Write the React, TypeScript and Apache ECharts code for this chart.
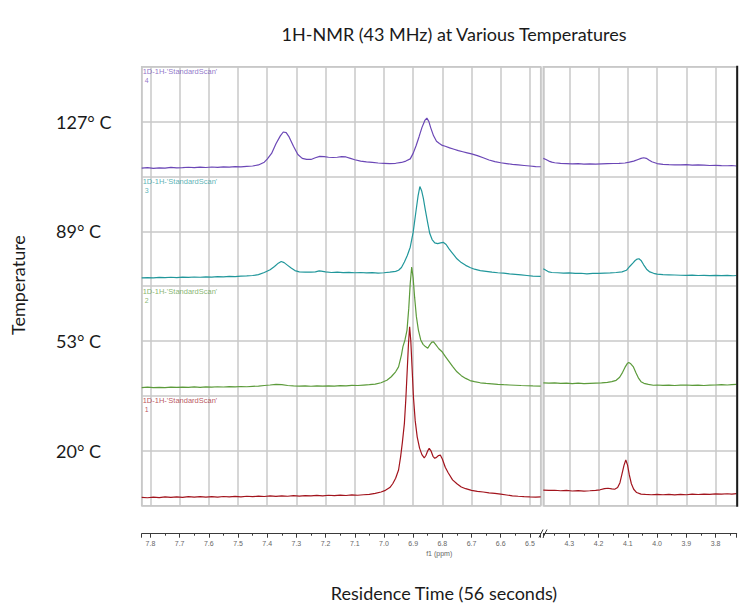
import React, { useEffect, useRef } from "react";
import * as echarts from "echarts";

// ---------- data ----------
const temperatures = ["20° C", "53° C", "89° C", "127° C"];
const scanNumbers = ["1", "2", "3", "4"];
const scanName = "1D-1H-'StandardScan'";
const leftRange = [6.463, 7.83];
const rightRange = [3.728, 4.389];

const redLeft = [
  [7.83, 0.153], [7.81, 0.145], [7.79, 0.158], [7.77, 0.148], [7.75, 0.16], [7.73, 0.15], [7.71, 0.162], [7.69, 0.152],
  [7.67, 0.164], [7.65, 0.155], [7.63, 0.165], [7.61, 0.156], [7.59, 0.166], [7.57, 0.158], [7.55, 0.168], [7.53, 0.16],
  [7.51, 0.17], [7.49, 0.162], [7.47, 0.172], [7.45, 0.165], [7.43, 0.175], [7.41, 0.168], [7.39, 0.178], [7.37, 0.17],
  [7.35, 0.18], [7.33, 0.172], [7.31, 0.182], [7.29, 0.175], [7.27, 0.185], [7.25, 0.178], [7.23, 0.188], [7.21, 0.18],
  [7.19, 0.19], [7.17, 0.183], [7.15, 0.193], [7.13, 0.186], [7.11, 0.196], [7.09, 0.19], [7.07, 0.2], [7.05, 0.205],
  [7.03, 0.225], [7.01, 0.25], [6.995, 0.28], [6.98, 0.33], [6.97, 0.4], [6.96, 0.5], [6.95, 0.65], [6.943, 0.89],
  [6.937, 1.15], [6.93, 1.5], [6.925, 1.95], [6.92, 2.5], [6.916, 2.95], [6.912, 3.26], [6.908, 3.0], [6.904, 2.55],
  [6.899, 1.98], [6.893, 1.55], [6.886, 1.25], [6.878, 1.05], [6.87, 0.93], [6.862, 0.87], [6.856, 0.92], [6.85, 1.0],
  [6.845, 1.046], [6.839, 1.0], [6.832, 0.9], [6.826, 0.865], [6.82, 0.88], [6.813, 0.915], [6.807, 0.923], [6.8, 0.85],
  [6.79, 0.7], [6.78, 0.6], [6.765, 0.47], [6.75, 0.4], [6.735, 0.34], [6.72, 0.31], [6.7, 0.28], [6.68, 0.262],
  [6.66, 0.25], [6.64, 0.235], [6.62, 0.225], [6.6, 0.21], [6.58, 0.195], [6.56, 0.18], [6.54, 0.172], [6.52, 0.165],
  [6.5, 0.16], [6.48, 0.158], [6.463, 0.162],
];
const redRight = [
  [4.389, 0.285], [4.37, 0.278], [4.35, 0.282], [4.33, 0.272], [4.31, 0.278], [4.29, 0.268], [4.27, 0.274], [4.25, 0.266],
  [4.23, 0.272], [4.21, 0.28], [4.195, 0.29], [4.18, 0.31], [4.168, 0.318], [4.155, 0.305], [4.145, 0.3], [4.135, 0.33],
  [4.127, 0.42], [4.12, 0.58], [4.113, 0.74], [4.107, 0.832], [4.101, 0.74], [4.095, 0.56], [4.088, 0.4], [4.08, 0.3],
  [4.07, 0.24], [4.055, 0.21], [4.04, 0.205], [4.02, 0.2], [4.0, 0.208], [3.98, 0.2], [3.96, 0.206], [3.94, 0.198],
  [3.92, 0.205], [3.9, 0.2], [3.88, 0.21], [3.86, 0.204], [3.84, 0.212], [3.82, 0.206], [3.8, 0.215], [3.78, 0.21],
  [3.76, 0.218], [3.745, 0.212], [3.728, 0.22],
];

const greenLeft = [
  [7.83, 0.153], [7.81, 0.16], [7.79, 0.15], [7.77, 0.158], [7.75, 0.152], [7.73, 0.16], [7.71, 0.155], [7.69, 0.162],
  [7.67, 0.157], [7.65, 0.164], [7.63, 0.158], [7.61, 0.165], [7.59, 0.16], [7.57, 0.168], [7.55, 0.163], [7.53, 0.17],
  [7.51, 0.166], [7.49, 0.172], [7.47, 0.168], [7.45, 0.176], [7.43, 0.18], [7.41, 0.19], [7.39, 0.2], [7.37, 0.212],
  [7.35, 0.205], [7.33, 0.19], [7.31, 0.183], [7.29, 0.178], [7.27, 0.182], [7.25, 0.177], [7.23, 0.183], [7.21, 0.178],
  [7.19, 0.185], [7.17, 0.18], [7.15, 0.188], [7.13, 0.185], [7.11, 0.192], [7.09, 0.19], [7.07, 0.198], [7.05, 0.205],
  [7.03, 0.215], [7.01, 0.24], [6.99, 0.285], [6.975, 0.35], [6.96, 0.44], [6.95, 0.53], [6.94, 0.75], [6.935, 0.9],
  [6.928, 1.02], [6.921, 1.2], [6.915, 1.6], [6.91, 2.05], [6.905, 2.35], [6.9, 2.15], [6.895, 1.8], [6.889, 1.45],
  [6.882, 1.2], [6.874, 1.02], [6.866, 0.94], [6.858, 0.9], [6.85, 0.87], [6.843, 0.93], [6.836, 0.98], [6.83, 0.985],
  [6.822, 0.93], [6.812, 0.86], [6.8, 0.8], [6.79, 0.72], [6.78, 0.65], [6.765, 0.54], [6.75, 0.44], [6.735, 0.37],
  [6.72, 0.32], [6.705, 0.28], [6.69, 0.26], [6.67, 0.24], [6.65, 0.228], [6.63, 0.22], [6.61, 0.212], [6.59, 0.205],
  [6.57, 0.2], [6.55, 0.195], [6.53, 0.19], [6.51, 0.186], [6.49, 0.182], [6.463, 0.178],
];
const greenRight = [
  [4.389, 0.24], [4.37, 0.232], [4.35, 0.238], [4.33, 0.228], [4.31, 0.234], [4.29, 0.226], [4.27, 0.232], [4.25, 0.225],
  [4.23, 0.23], [4.21, 0.235], [4.19, 0.24], [4.17, 0.248], [4.155, 0.26], [4.14, 0.285], [4.128, 0.34], [4.118, 0.43],
  [4.11, 0.52], [4.102, 0.59], [4.097, 0.608], [4.09, 0.585], [4.081, 0.528], [4.072, 0.42], [4.063, 0.32], [4.055, 0.26],
  [4.045, 0.23], [4.03, 0.21], [4.013, 0.195], [4.0, 0.2], [3.98, 0.192], [3.96, 0.198], [3.94, 0.19], [3.92, 0.196],
  [3.9, 0.2], [3.88, 0.193], [3.86, 0.198], [3.84, 0.19], [3.82, 0.196], [3.8, 0.2], [3.78, 0.205], [3.76, 0.2],
  [3.745, 0.208], [3.728, 0.21],
];

const tealLeft = [
  [7.83, 0.153], [7.81, 0.158], [7.79, 0.15], [7.77, 0.16], [7.75, 0.155], [7.73, 0.163], [7.71, 0.158], [7.69, 0.166],
  [7.67, 0.16], [7.65, 0.168], [7.63, 0.163], [7.61, 0.17], [7.59, 0.165], [7.57, 0.174], [7.55, 0.17], [7.53, 0.178],
  [7.51, 0.175], [7.49, 0.183], [7.47, 0.188], [7.45, 0.195], [7.43, 0.21], [7.41, 0.25], [7.39, 0.3], [7.375, 0.36],
  [7.362, 0.42], [7.352, 0.45], [7.342, 0.43], [7.33, 0.38], [7.318, 0.33], [7.305, 0.285], [7.29, 0.26], [7.27, 0.255],
  [7.25, 0.258], [7.235, 0.262], [7.222, 0.28], [7.215, 0.275], [7.2, 0.262], [7.18, 0.25], [7.16, 0.255], [7.14, 0.248],
  [7.12, 0.252], [7.1, 0.245], [7.08, 0.25], [7.06, 0.243], [7.04, 0.248], [7.02, 0.24], [7.0, 0.245], [6.98, 0.255],
  [6.96, 0.27], [6.95, 0.29], [6.94, 0.34], [6.93, 0.44], [6.92, 0.56], [6.91, 0.71], [6.9, 0.98], [6.89, 1.38],
  [6.883, 1.65], [6.877, 1.816], [6.871, 1.74], [6.865, 1.6], [6.858, 1.38], [6.85, 1.15], [6.843, 0.96], [6.835, 0.85],
  [6.826, 0.79], [6.816, 0.775], [6.806, 0.79], [6.797, 0.8], [6.787, 0.76], [6.777, 0.68], [6.765, 0.6], [6.75, 0.5],
  [6.735, 0.43], [6.72, 0.38], [6.705, 0.34], [6.69, 0.31], [6.67, 0.285], [6.65, 0.27], [6.63, 0.255], [6.61, 0.245],
  [6.59, 0.237], [6.57, 0.225], [6.55, 0.215], [6.53, 0.205], [6.51, 0.195], [6.49, 0.185], [6.463, 0.18],
];
const tealRight = [
  [4.389, 0.32], [4.38, 0.29], [4.37, 0.26], [4.36, 0.25], [4.34, 0.245], [4.32, 0.238], [4.3, 0.242], [4.28, 0.232],
  [4.26, 0.236], [4.24, 0.226], [4.22, 0.232], [4.2, 0.235], [4.18, 0.24], [4.16, 0.243], [4.14, 0.25], [4.12, 0.26],
  [4.105, 0.29], [4.093, 0.364], [4.083, 0.42], [4.075, 0.468], [4.068, 0.495], [4.062, 0.5], [4.055, 0.47], [4.046, 0.39],
  [4.036, 0.31], [4.025, 0.26], [4.012, 0.235], [4.0, 0.22], [3.98, 0.212], [3.96, 0.208], [3.94, 0.204], [3.92, 0.2],
  [3.9, 0.198], [3.88, 0.202], [3.86, 0.195], [3.84, 0.198], [3.82, 0.193], [3.8, 0.197], [3.78, 0.192], [3.76, 0.196],
  [3.74, 0.19], [3.728, 0.195],
];

const purpleLeft = [
  [7.83, 0.153], [7.81, 0.16], [7.79, 0.148], [7.77, 0.158], [7.75, 0.152], [7.73, 0.165], [7.71, 0.157], [7.69, 0.162],
  [7.67, 0.168], [7.65, 0.16], [7.63, 0.17], [7.61, 0.163], [7.59, 0.172], [7.57, 0.166], [7.55, 0.175], [7.53, 0.17],
  [7.51, 0.178], [7.49, 0.174], [7.47, 0.185], [7.45, 0.19], [7.43, 0.21], [7.41, 0.26], [7.4, 0.317], [7.385, 0.42],
  [7.37, 0.596], [7.355, 0.74], [7.345, 0.81], [7.335, 0.8], [7.325, 0.72], [7.31, 0.55], [7.295, 0.4], [7.28, 0.33],
  [7.265, 0.31], [7.25, 0.31], [7.235, 0.34], [7.22, 0.365], [7.205, 0.36], [7.19, 0.35], [7.175, 0.345], [7.16, 0.35],
  [7.145, 0.36], [7.13, 0.355], [7.115, 0.33], [7.1, 0.305], [7.08, 0.28], [7.06, 0.265], [7.04, 0.255], [7.02, 0.245],
  [7.0, 0.24], [6.98, 0.235], [6.96, 0.24], [6.94, 0.255], [6.925, 0.28], [6.91, 0.32], [6.9, 0.42], [6.89, 0.56],
  [6.88, 0.72], [6.87, 0.89], [6.86, 1.02], [6.853, 1.064], [6.846, 1.0], [6.84, 0.89], [6.83, 0.74], [6.82, 0.64],
  [6.81, 0.6], [6.8, 0.565], [6.79, 0.55], [6.775, 0.52], [6.76, 0.495], [6.745, 0.47], [6.73, 0.45], [6.715, 0.43],
  [6.7, 0.41], [6.68, 0.38], [6.66, 0.34], [6.64, 0.3], [6.62, 0.27], [6.6, 0.25], [6.58, 0.235], [6.56, 0.22],
  [6.54, 0.21], [6.52, 0.2], [6.5, 0.19], [6.48, 0.18], [6.463, 0.177],
];
const purpleRight = [
  [4.389, 0.33], [4.38, 0.31], [4.37, 0.28], [4.36, 0.26], [4.35, 0.25], [4.33, 0.24], [4.31, 0.235], [4.29, 0.228],
  [4.27, 0.232], [4.25, 0.225], [4.23, 0.23], [4.21, 0.224], [4.19, 0.228], [4.17, 0.232], [4.15, 0.236], [4.13, 0.24],
  [4.11, 0.245], [4.095, 0.26], [4.08, 0.28], [4.065, 0.31], [4.055, 0.33], [4.046, 0.341], [4.037, 0.33], [4.028, 0.3],
  [4.018, 0.268], [4.0, 0.235], [3.98, 0.22], [3.96, 0.215], [3.94, 0.212], [3.92, 0.21], [3.9, 0.215], [3.88, 0.207],
  [3.86, 0.21], [3.84, 0.205], [3.82, 0.2], [3.8, 0.203], [3.78, 0.198], [3.76, 0.195], [3.745, 0.2], [3.728, 0.19],
];

// traces from bottom band (20 °C) to top band (127 °C)
const traceLeft = [redLeft, greenLeft, tealLeft, purpleLeft];
const traceRight = [redRight, greenRight, tealRight, purpleRight];

// ---------- styles ----------
const COLORS = ["#a2141d", "#5c9b3b", "#21979b", "#6b47b6"];
const W = 739;
const H = 605;
const PLOT_TOP = 66.7;
const PLOT_BOTTOM = 505.7;
const LEFT_X0 = 141.7;
const LEFT_X1 = 540.7;
const RIGHT_X0 = 543.3;
const RIGHT_X1 = 736.7;
const GRID_COLOR = "#c8c8c8";
const AXIS_COLOR = "#3a3a3a";
const FONT = "Lato";

function xAxisFor(gridIndex: number, range: number[]) {
  return {
    type: "value",
    gridIndex,
    min: range[0],
    max: range[1],
    inverse: true,
    position: "bottom",
    offset: 28,
    minInterval: 0.1,
    maxInterval: 0.1,
    axisLine: { show: true, onZero: false, lineStyle: { color: AXIS_COLOR, width: 1 } },
    axisTick: { show: true, length: 4, lineStyle: { color: AXIS_COLOR, width: 1 } },
    minorTick: { show: true, splitNumber: 2, length: 2, lineStyle: { color: AXIS_COLOR, width: 1 } },
    axisLabel: {
      show: true,
      interval: 0,
      fontSize: 7,
      color: "#666",
      fontFamily: "Liberation Sans",
      margin: 6,
      showMinLabel: false,
      showMaxLabel: false,
      formatter: (v: number) => v.toFixed(1),
    },
    splitLine: { show: true, lineStyle: { color: GRID_COLOR, width: 1.5 } },
    minorSplitLine: { show: false },
  };
}

function yAxisFor(gridIndex: number, withLabels: boolean) {
  return {
    type: "value",
    gridIndex,
    min: 0,
    max: 8,
    interval: 1,
    axisLine: { show: false },
    axisTick: { show: false },
    axisLabel: withLabels
      ? {
          show: true,
          align: "left",
          margin: LEFT_X0 - 56,
          fontSize: 18,
          fontFamily: FONT,
          color: "#1a1a1a",
          formatter: (v: number) => {
            const k = Math.round(v);
            return k % 2 === 1 ? temperatures[(k - 1) / 2] : "";
          },
        }
      : { show: false },
    splitLine: { show: true, lineStyle: { color: GRID_COLOR, width: 1.5 } },
  };
}

export default function App() {
  const ref = useRef<HTMLDivElement>(null);

  useEffect(() => {
    document.body.style.margin = "0";
    if (!ref.current) return;
    const chart = echarts.init(ref.current, undefined, { renderer: "svg" });

    const series: any[] = [];
    traceLeft.forEach((arr, i) => {
      series.push({
        type: "line",
        name: temperatures[i],
        xAxisIndex: 0,
        yAxisIndex: 0,
        data: arr.map(([x, v]) => [x, 2 * i + v]),
        symbol: "none",
        lineStyle: { color: COLORS[i], width: 1.2 },
        itemStyle: { color: COLORS[i] },
        z: 3,
      });
    });
    traceRight.forEach((arr, i) => {
      series.push({
        type: "line",
        name: temperatures[i] + " (4 ppm)",
        xAxisIndex: 1,
        yAxisIndex: 1,
        data: arr.map(([x, v]) => [x, 2 * i + v]),
        symbol: "none",
        lineStyle: { color: COLORS[i], width: 1.2 },
        itemStyle: { color: COLORS[i] },
        z: 3,
      });
    });

    const bandH = (PLOT_BOTTOM - PLOT_TOP) / 4;
    const scanTexts: any[] = [];
    scanNumbers.forEach((n, i) => {
      const top = PLOT_TOP + (3 - i) * bandH;
      scanTexts.push({
        type: "text",
        x: LEFT_X0 + 1,
        y: top + 5,
        style: {
          text: scanName,
          fill: COLORS[i],
          opacity: 0.75,
          fontSize: 7.5,
          fontFamily: "Liberation Sans Narrow, Liberation Sans",
          textAlign: "left",
          textVerticalAlign: "middle",
        },
        z: 10,
      });
      scanTexts.push({
        type: "text",
        x: LEFT_X0 + 3,
        y: top + 14,
        style: {
          text: n,
          fill: COLORS[i],
          opacity: 0.75,
          fontSize: 7,
          fontFamily: "Liberation Sans",
          textAlign: "left",
          textVerticalAlign: "middle",
        },
        z: 10,
      });
    });

    const option: any = {
      animation: false,
      backgroundColor: "#ffffff",
      textStyle: { fontFamily: FONT },
      grid: [
        {
          left: LEFT_X0,
          right: W - LEFT_X1,
          top: PLOT_TOP,
          bottom: H - PLOT_BOTTOM,
          show: true,
          borderColor: GRID_COLOR,
          borderWidth: 1.5,
          backgroundColor: "transparent",
        },
        {
          left: RIGHT_X0,
          right: W - RIGHT_X1,
          top: PLOT_TOP,
          bottom: H - PLOT_BOTTOM,
          show: true,
          borderColor: GRID_COLOR,
          borderWidth: 1.5,
          backgroundColor: "transparent",
        },
      ],
      xAxis: [xAxisFor(0, leftRange), xAxisFor(1, rightRange)],
      yAxis: [yAxisFor(0, true), yAxisFor(1, false)],
      series,
      graphic: [
        {
          type: "text",
          x: 454,
          y: 34,
          style: {
            text: "1H-NMR (43 MHz) at Various Temperatures",
            fontSize: 18,
            fontFamily: FONT,
            fill: "#1a1a1a",
            textAlign: "center",
            textVerticalAlign: "middle",
          },
        },
        {
          type: "text",
          x: 444,
          y: 593,
          style: {
            text: "Residence Time (56 seconds)",
            fontSize: 18,
            fontFamily: FONT,
            fill: "#1a1a1a",
            textAlign: "center",
            textVerticalAlign: "middle",
          },
        },
        {
          type: "text",
          x: 18,
          y: 285,
          rotation: Math.PI / 2,
          style: {
            text: "Temperature",
            fontSize: 18,
            fontFamily: FONT,
            fill: "#1a1a1a",
            textAlign: "center",
            textVerticalAlign: "middle",
          },
        },
        {
          type: "text",
          x: (LEFT_X0 + RIGHT_X1) / 2,
          y: 553,
          style: {
            text: "f1 (ppm)",
            fontSize: 7,
            fontFamily: "Liberation Sans",
            fill: "#666",
            textAlign: "center",
            textVerticalAlign: "middle",
          },
        },
        {
          type: "line",
          shape: { x1: RIGHT_X1 + 0.5, y1: PLOT_TOP - 1, x2: RIGHT_X1 + 0.5, y2: PLOT_BOTTOM + 1 },
          style: { stroke: "#1a1a1a", lineWidth: 2 },
          z: 20,
        },
        {
          type: "line",
          shape: { x1: 539, y1: 537.5, x2: 543, y2: 529.5 },
          style: { stroke: AXIS_COLOR, lineWidth: 1 },
        },
        {
          type: "line",
          shape: { x1: 543, y1: 537.5, x2: 547, y2: 529.5 },
          style: { stroke: AXIS_COLOR, lineWidth: 1 },
        },
        ...scanTexts,
      ],
    };

    chart.setOption(option);
    return () => chart.dispose();
  }, []);

  return <div ref={ref} style={{ width: W, height: H }} />;
}
